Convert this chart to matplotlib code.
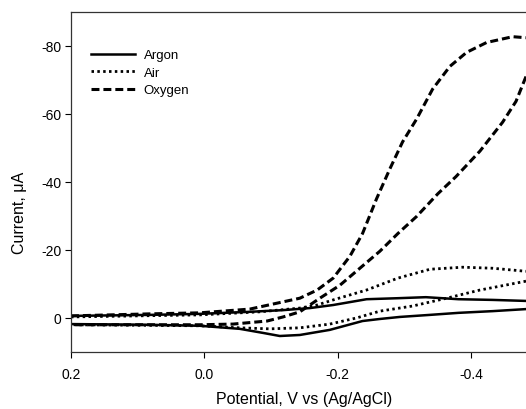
import matplotlib
matplotlib.use("Agg")
import matplotlib.pyplot as plt

plt.rcParams['font.family'] = ['Liberation Sans', 'DejaVu Sans']
plt.rcParams['axes.unicode_minus'] = False

# each gas: forward (cathodic) branch and return branch
argon_fwd_v = [0.2, 0.082, 0.007, -0.068, -0.118, -0.158, -0.193, -0.243, -0.290, -0.332, -0.381, -0.432, -0.482]
argon_fwd_i = [-0.6, -0.9, -1.2, -1.8, -2.3, -2.9, -3.8, -5.5, -5.8, -6.1, -5.5, -5.3, -5.0]
argon_rev_v = [-0.482, -0.432, -0.381, -0.338, -0.293, -0.263, -0.237, -0.188, -0.143, -0.113, -0.088, -0.053, 0.007, 0.082, 0.2]
argon_rev_i = [-2.6, -2.0, -1.5, -0.9, -0.3, 0.3, 0.9, 3.5, 5.0, 5.3, 4.4, 3.2, 2.3, 2.0, 1.8]

air_fwd_v = [0.2, 0.007, -0.083, -0.143, -0.169, -0.193, -0.243, -0.290, -0.338, -0.387, -0.432, -0.482]
air_fwd_i = [-0.3, -0.9, -1.8, -2.9, -3.8, -5.3, -8.2, -11.7, -14.3, -14.9, -14.6, -13.7]
air_rev_v = [-0.482, -0.413, -0.363, -0.312, -0.263, -0.228, -0.188, -0.143, -0.098, -0.053, 0.007, 0.2]
air_rev_i = [-10.8, -8.2, -5.8, -3.5, -2.0, 0.0, 1.8, 2.9, 3.2, 2.9, 2.3, 2.0]

oxy_fwd_v = [0.2, 0.082, 0.007, -0.068, -0.143, -0.169, -0.193, -0.218, -0.237, -0.258, -0.278, -0.297,
             -0.318, -0.342, -0.368, -0.393, -0.423, -0.462, -0.482]
oxy_fwd_i = [-0.6, -1.2, -1.5, -2.6, -5.8, -8.2, -11.7, -18.1, -24.8, -35.0, -43.8, -51.7,
             -58.4, -67.2, -73.9, -78.0, -80.9, -82.6, -82.3]
oxy_rev_v = [-0.482, -0.467, -0.447, -0.413, -0.377, -0.350, -0.318, -0.290, -0.263, -0.233, -0.203, -0.173,
             -0.143, -0.118, -0.094, -0.043, 0.007, 0.082, 0.2]
oxy_rev_i = [-70.9, -63.6, -57.5, -49.0, -41.5, -36.5, -29.8, -24.8, -19.6, -14.6, -9.6, -5.8,
             -1.8, -0.3, 0.9, 1.8, 2.0, 2.0, 2.0]

xticks = [0.2, 0.0, -0.2, -0.4]
xticklabels = ['0.2', '0.0', '-0.2', '-0.4']
yticks = [-80, -60, -40, -20, 0]

fig = plt.figure(figsize=(5.26, 4.10), dpi=100)
ax = fig.add_axes([71/526, 1-353/410, 467/526, 340.5/410])

solid = dict(color='black', lw=1.8)
dotted = dict(color='black', lw=2.0, dashes=(0.9, 1.2))
dashed = dict(color='black', lw=2.2, dashes=(2.6, 1.3))

ax.plot(argon_fwd_v, argon_fwd_i, label='Argon', **solid)
ax.plot(argon_rev_v, argon_rev_i, **solid)
ax.plot(air_fwd_v, air_fwd_i, label='Air', **dotted)
ax.plot(air_rev_v, air_rev_i, **dotted)
ax.plot(oxy_fwd_v, oxy_fwd_i, label='Oxygen', **dashed)
ax.plot(oxy_rev_v, oxy_rev_i, **dashed)

ax.set_xlim(0.2, -0.5)
ax.set_ylim(10, -90)
ax.set_xticks(xticks)
ax.set_xticklabels(xticklabels)
ax.set_yticks(yticks)
ax.tick_params(direction='out', length=4, width=0.8, labelsize=10, pad=7)
ax.tick_params(axis='y', pad=3)
for s in ax.spines.values():
    s.set_linewidth(0.9)
    s.set_color('#333333')

ax.set_xlabel('Potential, V vs (Ag/AgCl)', fontsize=11.5, labelpad=7)
ax.set_ylabel('Current, μA', fontsize=11.5)
ax.yaxis.set_label_coords(-44/467, (353-213)/340.5)

ax.legend(loc='upper left', bbox_to_anchor=(20/467, (353-50)/340.5), frameon=False,
          fontsize=9.5, handlelength=3.3, handletextpad=0.7, labelspacing=0.4,
          borderpad=0, borderaxespad=0)

fig.savefig('out.png', dpi=100)
